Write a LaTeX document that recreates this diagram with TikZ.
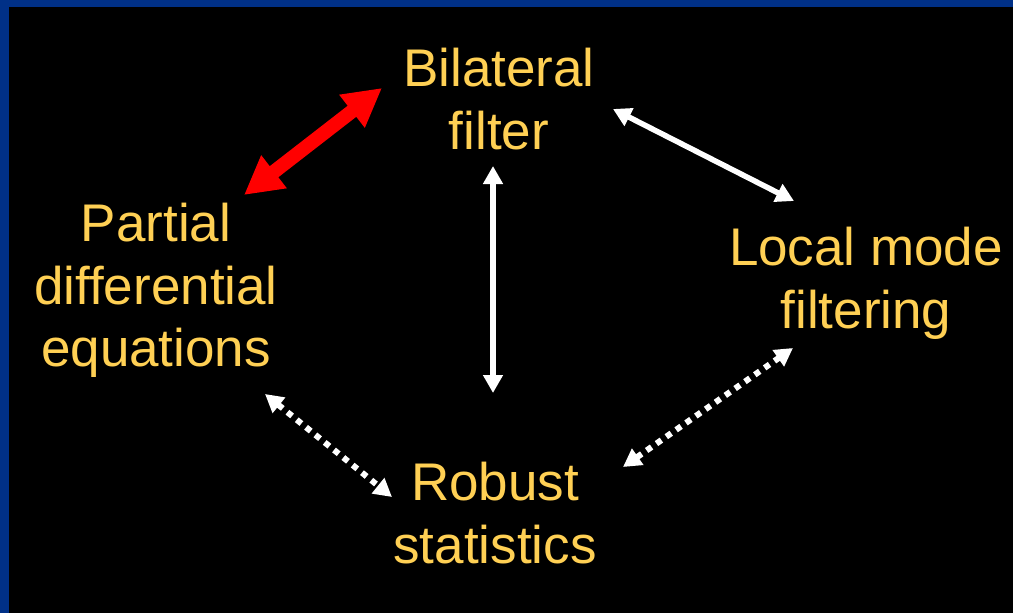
\documentclass[tikz,border=0pt]{standalone}
\usepackage{fontspec}
\setmainfont{Liberation Sans}
\usetikzlibrary{arrows.meta}
\definecolor{framblue}{RGB}{0,48,135}
\definecolor{labyellow}{RGB}{255,208,84}
\definecolor{arrred}{RGB}{255,0,0}
\tikzset{
  label text/.style={text=labyellow, font=\fontsize{53}{62.5}\selectfont, align=center, inner sep=0pt, anchor=north},
  red link/.style={draw=arrred, line width=14pt, {Triangle[length=38pt,width=39pt]}-{Triangle[length=38pt,width=39pt]}},
  solid link/.style={draw=white, line width=5.5pt, {Triangle[length=18pt,width=19pt]}-{Triangle[length=18pt,width=19pt]}},
  dot link/.style={draw=white, line width=6pt, dash pattern=on 6pt off 6pt, {Triangle[length=18pt,width=19pt]}-{Triangle[length=18pt,width=19pt]}}
}
\begin{document}
\begin{tikzpicture}[x=1pt,y=-1pt]
\useasboundingbox (0,0) rectangle (1013,613);
\fill[black] (0,0) rectangle (1013,613);
\fill[framblue] (0,0) rectangle (1013,7);
\fill[framblue] (0,0) rectangle (9,613);

\node[label text] (bil) at (499,48) {Bilateral\\filter};
\node[label text] (pde) at (156,203) {Partial\\differential\\equations};
\node[label text] (loc) at (866,227) {Local mode\\filtering};
\node[label text] (rob) at (495,462) {Robust\\statistics};

\coordinate (bilL) at (382,88);
\coordinate (pdeT) at (244,195);
\coordinate (bilB) at (493,166);
\coordinate (robT) at (493,393);
\coordinate (bilR) at (613,109);
\coordinate (locT) at (794,201);
\coordinate (pdeB) at (265,394);
\coordinate (robL) at (392,497);
\coordinate (robR) at (623,467);
\coordinate (locB) at (793,348);

\draw[red link] (pdeT) -- (bilL);
\draw[solid link] (bilB) -- (robT);
\draw[solid link] (bilR) -- (locT);
\draw[dot link] (pdeB) -- (robL);
\draw[dot link] (robR) -- (locB);
\end{tikzpicture}
\end{document}
